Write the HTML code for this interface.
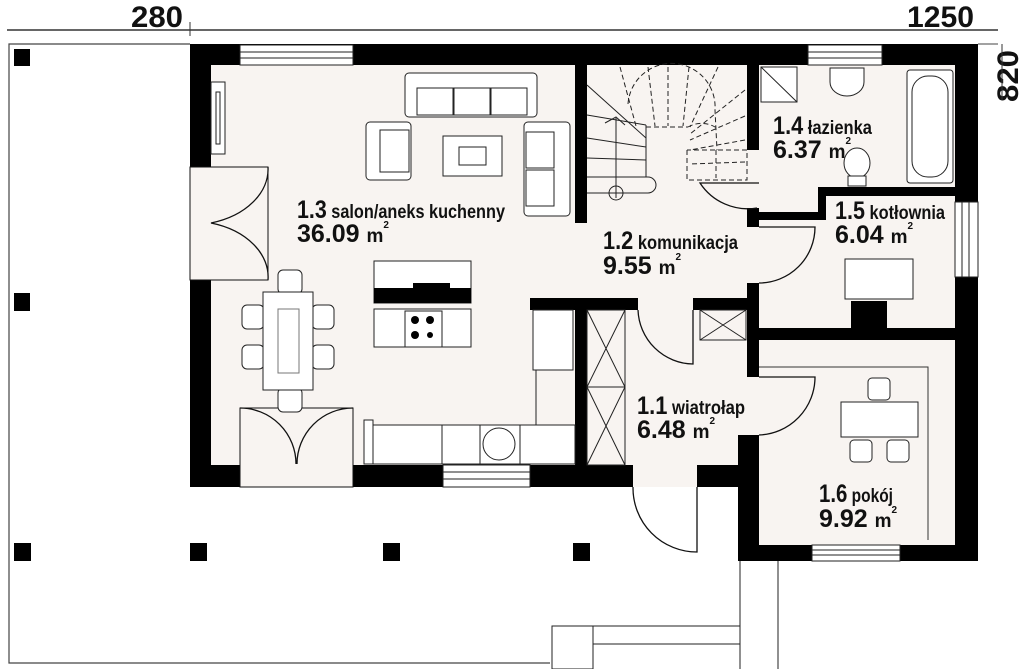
<!DOCTYPE html>
<html><head><meta charset="utf-8"><style>
html,body{margin:0;padding:0;background:#fff;}
svg{display:block;}
text{font-family:"Liberation Sans",sans-serif;font-weight:bold;fill:#111;}
</style></head><body>
<svg width="1022" height="669" viewBox="0 0 1022 669" xmlns="http://www.w3.org/2000/svg">
<!-- dimension -->
<line x1="7" y1="30" x2="998" y2="30" stroke="#333" stroke-width="1.5"/>
<line x1="190" y1="22" x2="190" y2="36" stroke="#333" stroke-width="1"/>
<text x="131" y="27" font-size="30" textLength="52" lengthAdjust="spacingAndGlyphs">280</text>
<text x="907" y="27" font-size="30" textLength="67" lengthAdjust="spacingAndGlyphs">1250</text>
<text transform="translate(1018,102) rotate(-90)" font-size="30" textLength="52" lengthAdjust="spacingAndGlyphs">820</text>
<line x1="1002" y1="44" x2="1002" y2="100" stroke="#333" stroke-width="1"/>
<!-- porch outline -->
<polyline points="190,44 9,44 9,663 550,663" fill="none" stroke="#444" stroke-width="1.2"/>
<line x1="978" y1="44" x2="998" y2="44" stroke="#444"/>
<!-- columns -->
<rect x="14" y="49" width="16" height="17" fill="#000"/>
<rect x="14" y="293" width="16" height="18" fill="#000"/>
<rect x="14" y="543" width="17" height="18" fill="#000"/>
<rect x="190" y="543" width="17" height="18" fill="#000"/>
<rect x="383" y="543" width="17" height="18" fill="#000"/>
<rect x="573" y="543" width="17" height="18" fill="#000"/>
<!-- steps -->
<rect x="552" y="626" width="41" height="43" fill="#fff" stroke="#222"/>
<line x1="593" y1="626" x2="740" y2="626" stroke="#222"/>
<line x1="593" y1="644" x2="740" y2="644" stroke="#222"/>
<line x1="740" y1="561" x2="740" y2="669" stroke="#222"/>
<line x1="778" y1="561" x2="778" y2="669" stroke="#222"/>
<!-- building walls -->
<path d="M190,44 H978 V561 H738 V487 H190 Z" fill="#000"/>
<!-- interiors -->
<g fill="#f8f4f1">
<rect x="211" y="65" width="364" height="400"/>
<rect x="587" y="65" width="160" height="233"/>
<rect x="575" y="223" width="172" height="75"/>
<path d="M759,65 H955 V187 H818 V212 H759 Z"/>
<rect x="826" y="196" width="129" height="30"/>
<rect x="759" y="220" width="196" height="108"/>
<rect x="587" y="310" width="160" height="155"/>
<rect x="759" y="340" width="196" height="205"/>
<rect x="747" y="150" width="12" height="58"/>
<rect x="747" y="227" width="12" height="56"/>
<rect x="638" y="298" width="55" height="12"/>
<rect x="747" y="377" width="12" height="58"/>
</g>
<rect x="759" y="212" width="66" height="8" fill="#000"/>
<rect x="818" y="187" width="8" height="33" fill="#000"/>
<rect x="826" y="187" width="129" height="9" fill="#000"/>
<rect x="575" y="65" width="12" height="158" fill="#000"/>
<rect x="530" y="298" width="108" height="12" fill="#000"/>
<rect x="693" y="298" width="54" height="12" fill="#000"/>
<rect x="575" y="298" width="12" height="167" fill="#000"/>
<rect x="747" y="283" width="12" height="57" fill="#000"/>
<rect x="747" y="328" width="208" height="12" fill="#000"/>
<rect x="747" y="340" width="12" height="37" fill="#000"/>
<rect x="738" y="435" width="21" height="52" fill="#000"/>
<rect x="747" y="65" width="12" height="85" fill="#000"/>
<!-- openings -->
<g fill="#f8f4f1" stroke="#222" stroke-width="1">
<rect x="190" y="167" width="21" height="113" stroke="none"/>
<rect x="240" y="465" width="113" height="22"/>
<rect x="633" y="465" width="64" height="22" stroke="none"/>
</g>
<!-- windows -->
<g fill="#fff" stroke="#222" stroke-width="1">
<rect x="240" y="45" width="113" height="20"/><line x1="240" y1="52" x2="353" y2="52"/><line x1="240" y1="58" x2="353" y2="58"/>
<rect x="808" y="45" width="74" height="20"/><line x1="808" y1="52" x2="882" y2="52"/><line x1="808" y1="58" x2="882" y2="58"/>
<rect x="443" y="465" width="87" height="22"/><line x1="443" y1="472" x2="530" y2="472"/><line x1="443" y1="479" x2="530" y2="479"/>
<rect x="812" y="545" width="88" height="16"/><line x1="812" y1="550" x2="900" y2="550"/><line x1="812" y1="555" x2="900" y2="555"/>
<rect x="955" y="202" width="23" height="75"/><line x1="962" y1="202" x2="962" y2="277"/><line x1="969" y1="202" x2="969" y2="277"/>
</g>
<!-- doors -->
<g fill="none" stroke="#111" stroke-width="1.3">
<rect x="190" y="167" width="78" height="113" fill="#f8f4f1" stroke-width="1"/>
<path d="M268,167 A78,56 0 0 1 211,223 A78,56 0 0 1 268,280"/>
<rect x="240" y="408" width="113" height="79" fill="#f8f4f1" stroke-width="1"/>
<path d="M240,408 A56,56 0 0 1 296,464 M353,408 A56,56 0 0 0 297,464"/>
<path d="M697,487 V552 A64,64 0 0 1 633,487"/>
<path d="M693,310 V364 A56,56 0 0 1 638,310"/>
<path d="M759,377 H815 A58,58 0 0 1 759,435"/>
<path d="M759,227 H815 A56,56 0 0 1 759,283"/>
<path d="M759,183 H700 A57,57 0 0 0 757,208"/>
</g>
<path d="M759,367 H928 V540" fill="none" stroke="#333"/>
<!-- pokój furniture -->
<g fill="#fff" stroke="#222">
<rect x="841" y="402" width="77" height="35"/>
<rect x="868" y="378" width="22" height="22" rx="4"/>
<rect x="850" y="440" width="22" height="22" rx="4"/>
<rect x="887" y="440" width="22" height="22" rx="4"/>
</g>
<rect x="845" y="259" width="68" height="40" fill="#fff" stroke="#222"/>
<rect x="851" y="301" width="36" height="28" fill="#000"/>
<!-- bathroom -->
<g fill="#fff" stroke="#222">
<rect x="761" y="67" width="36" height="35"/><line x1="761" y1="67" x2="797" y2="102"/>
<path d="M830,68 H864 V82 A17,14 0 0 1 830,82 Z"/>
<rect x="907" y="70" width="46" height="113" rx="3"/>
<rect x="912" y="76" width="36" height="101" rx="16"/>
<ellipse cx="857" cy="163" rx="13" ry="15"/>
<rect x="848" y="176" width="18" height="10"/>
</g>
<!-- shaft, closet -->
<g fill="none" stroke="#222">
<rect x="700" y="310" width="46" height="30"/><path d="M700,310 L746,340 M746,310 L700,340"/>
<rect x="587" y="310" width="38" height="155"/><line x1="587" y1="387" x2="625" y2="387"/>
<path d="M587,310 L625,387 L587,465 M625,310 L587,387 L625,465"/>
</g>
<!-- stairs -->
<g fill="none" stroke="#222" stroke-width="1">
<line x1="587" y1="115" x2="646" y2="125"/><line x1="587" y1="138" x2="646" y2="147"/><line x1="587" y1="158" x2="646" y2="160"/>
<line x1="587" y1="85" x2="646" y2="138"/>
<path d="M587,177 H648 A8,8 0 0 1 648,193 H587"/>
<line x1="646" y1="125" x2="646" y2="177"/>
<line x1="616" y1="118" x2="616" y2="198"/><circle cx="616" cy="193" r="7"/>
<path d="M605,123 L616,117 L625,125"/>
</g>
<g fill="none" stroke="#222" stroke-width="1" stroke-dasharray="5,3">
<path d="M646,127 H688 M688,127 A27,27 0 0 1 715,127 H720"/>
<path d="M628,104 A40,40 0 0 1 715,110 L717,150"/>
<path d="M687,150 V180 H747 V150 H687"/>
<line x1="620" y1="67" x2="636" y2="126"/><line x1="648" y1="67" x2="655" y2="126"/><line x1="668" y1="67" x2="668" y2="126"/><line x1="689" y1="67" x2="683" y2="126"/><line x1="718" y1="67" x2="690" y2="127"/>
<line x1="745" y1="90" x2="690" y2="134"/><line x1="745" y1="116" x2="690" y2="140"/><line x1="745" y1="140" x2="690" y2="150"/><line x1="745" y1="162" x2="690" y2="164"/>
<line x1="716" y1="150" x2="716" y2="178"/>
</g>
<!-- salon furniture -->
<g fill="#fff" stroke="#222">
<rect x="405" y="73" width="132" height="44" rx="4"/>
<rect x="417" y="88" width="36" height="27"/><rect x="454" y="88" width="36" height="27"/><rect x="491" y="88" width="36" height="27"/>
<rect x="366" y="122" width="45" height="58" rx="4"/><rect x="380" y="130" width="29" height="42"/>
<rect x="524" y="122" width="46" height="94" rx="4"/><rect x="526" y="132" width="28" height="36"/><rect x="526" y="170" width="28" height="36"/>
<rect x="443" y="136" width="59" height="40"/><rect x="459" y="147" width="27" height="18"/>
<rect x="211" y="82" width="14" height="72"/><rect x="216" y="92" width="4" height="52"/>
<rect x="278" y="270" width="24" height="24" rx="5"/><rect x="278" y="388" width="24" height="24" rx="5"/>
<rect x="242" y="305" width="22" height="24" rx="5"/><rect x="242" y="345" width="22" height="24" rx="5"/>
<rect x="312" y="305" width="22" height="24" rx="5"/><rect x="312" y="345" width="22" height="24" rx="5"/>
<rect x="263" y="292" width="50" height="98"/>
<rect x="278" y="309" width="21" height="64" stroke="#777"/>
<rect x="374" y="261" width="97" height="42"/>
<rect x="374" y="309" width="97" height="38"/>
<rect x="405" y="311" width="37" height="36"/>
<rect x="533" y="310" width="40" height="60"/>
<path d="M536,370 V425 H575" fill="none"/>
<rect x="373" y="425" width="202" height="39"/>
<line x1="442" y1="425" x2="442" y2="464"/><line x1="480" y1="425" x2="480" y2="464"/><line x1="520" y1="425" x2="520" y2="464"/>
<rect x="364" y="420" width="9" height="44"/>
<circle cx="499" cy="444" r="16"/>
</g>
<rect x="374" y="288" width="97" height="15" fill="#000"/>
<rect x="413" y="283" width="37" height="20" fill="#000"/>
<g fill="#000"><circle cx="415" cy="320" r="4"/><circle cx="430" cy="320" r="4"/><circle cx="415" cy="335" r="4"/><circle cx="430" cy="335" r="3"/></g>
<!-- labels -->
<g>
<text x="297" y="218" textLength="208" lengthAdjust="spacingAndGlyphs"><tspan font-size="25">1.3</tspan><tspan font-size="19"> salon/aneks kuchenny</tspan></text>
<text x="297" y="242" font-size="25">36.09 <tspan font-size="19">m</tspan><tspan font-size="10" dy="-14">2</tspan></text>
<text x="603" y="249" textLength="135" lengthAdjust="spacingAndGlyphs"><tspan font-size="25">1.2</tspan><tspan font-size="19"> komunikacja</tspan></text>
<text x="603" y="274" font-size="25">9.55 <tspan font-size="19">m</tspan><tspan font-size="10" dy="-14">2</tspan></text>
<text x="773" y="134" textLength="99" lengthAdjust="spacingAndGlyphs"><tspan font-size="25">1.4</tspan><tspan font-size="19"> łazienka</tspan></text>
<text x="773" y="158" font-size="25">6.37 <tspan font-size="19">m</tspan><tspan font-size="10" dy="-14">2</tspan></text>
<text x="835" y="219" textLength="110" lengthAdjust="spacingAndGlyphs"><tspan font-size="25">1.5</tspan><tspan font-size="19"> kotłownia</tspan></text>
<text x="835" y="243" font-size="25">6.04 <tspan font-size="19">m</tspan><tspan font-size="10" dy="-14">2</tspan></text>
<text x="637" y="414" textLength="108" lengthAdjust="spacingAndGlyphs"><tspan font-size="25">1.1</tspan><tspan font-size="19"> wiatrołap</tspan></text>
<text x="637" y="438" font-size="25">6.48 <tspan font-size="19">m</tspan><tspan font-size="10" dy="-14">2</tspan></text>
<text x="819" y="502" textLength="74" lengthAdjust="spacingAndGlyphs"><tspan font-size="25">1.6</tspan><tspan font-size="19"> pokój</tspan></text>
<text x="819" y="527" font-size="25">9.92 <tspan font-size="19">m</tspan><tspan font-size="10" dy="-14">2</tspan></text>
</g>
</svg>
</body></html>
